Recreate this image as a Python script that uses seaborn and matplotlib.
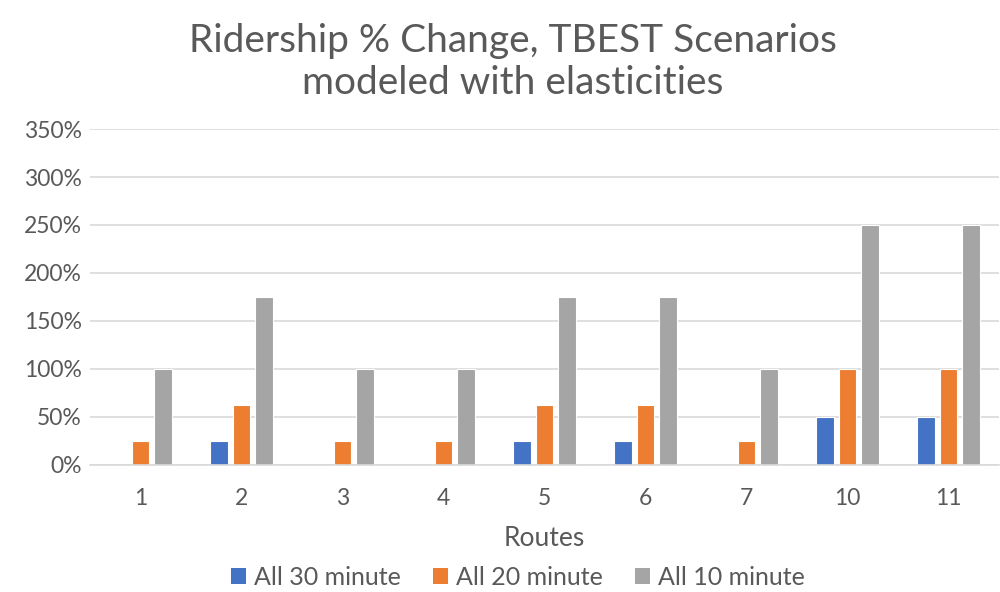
import matplotlib
matplotlib.use("Agg")
import matplotlib.pyplot as plt
import matplotlib.ticker as mticker
from matplotlib.patches import Patch
import seaborn as sns
import pandas as pd

routes = ["1", "2", "3", "4", "5", "6", "7", "10", "11"]
all_30 = [0, 25, 0, 0, 25, 25, 0, 50, 50]
all_20 = [25, 62.5, 25, 25, 62.5, 62.5, 25, 100, 100]
all_10 = [100, 175, 100, 100, 175, 175, 100, 250, 250]
series = ["All 30 minute", "All 20 minute", "All 10 minute"]
colors = ["#4472C4", "#ED7D31", "#A5A5A5"]

df = pd.DataFrame({
    "Route": routes * 3,
    "Change": all_30 + all_20 + all_10,
    "Scenario": [s for s in series for _ in routes],
})

sns.set_theme(style="white")
plt.rcParams["font.family"] = ["Lato", "DejaVu Sans"]
text_color = "#595959"

fig = plt.figure(figsize=(10, 5.92), dpi=100)
ax = fig.add_axes([0.09, 0.215, 0.909, 0.567])

sns.barplot(data=df, x="Route", y="Change", hue="Scenario", order=routes,
            hue_order=series, palette=colors, saturation=1, width=0.68, gap=0.22,
            edgecolor="white", linewidth=0.8, ax=ax, legend=False)

ax.set_ylim(0, 350)
ax.set_yticks(range(0, 351, 50))
ax.yaxis.set_major_formatter(mticker.FuncFormatter(lambda v, _: f"{v:.0f}%"))
ax.grid(axis="y", color="#D9D9D9", linewidth=1.2)
ax.set_axisbelow(True)
for side in ["top", "right", "left"]:
    ax.spines[side].set_visible(False)
ax.spines["bottom"].set_color("#D9D9D9")
ax.spines["bottom"].set_linewidth(1.2)
ax.tick_params(axis="both", length=0, labelsize=16.5, colors=text_color)
ax.tick_params(axis="y", pad=6)
ax.tick_params(axis="x", pad=17)
ax.set_ylabel("")
ax.set_xlabel("Routes", fontsize=19, color=text_color, labelpad=12)

fig.text(0.513, 0.895, "Ridership % Change, TBEST Scenarios\nmodeled with elasticities",
         ha="center", va="center", fontsize=28, color=text_color, linespacing=1.2)

handles = [Patch(facecolor=c, edgecolor="none") for c in colors]
fig.legend(handles, series, loc="center", bbox_to_anchor=(0.518, 0.025),
           ncol=3, frameon=False, handlelength=0.6, handleheight=0.6,
           handletextpad=0.3, columnspacing=1.3, labelcolor=text_color,
           prop={"size": 18})

fig.savefig("out.png", dpi=100)
